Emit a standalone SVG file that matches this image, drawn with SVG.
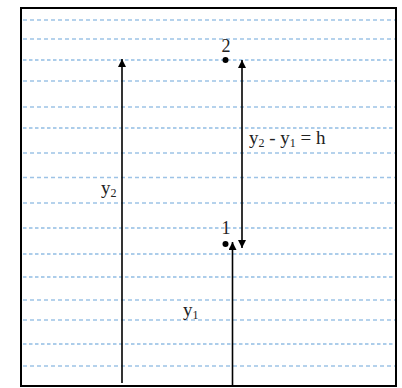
<svg xmlns="http://www.w3.org/2000/svg" width="402" height="388" viewBox="0 0 402 388">
<defs>
<style>
.gl{stroke:#9dc3e6;stroke-width:1.6;stroke-dasharray:4 3;fill:none}
.gd{stroke:#5b9bd5;stroke-width:1.2;stroke-dasharray:3.5 2.5;fill:none}
.ar{stroke:#000;stroke-width:1.6;fill:none}
.t{font-family:"Liberation Serif","Times New Roman",serif;font-size:19px;fill:#222}
.n{font-size:18px}
.s{font-size:12px}
</style>
<marker id="ah" viewBox="0 0 10 10" refX="10" refY="5" markerWidth="5" markerHeight="5" orient="auto-start-reverse" markerUnits="strokeWidth">
<path d="M0,0 L10,5 L0,10 z" fill="#000"/>
</marker>
</defs>
<rect x="0" y="0" width="402" height="388" fill="#fff"/>
<g id="grid">
<line class="gl" x1="23" y1="20" x2="395" y2="20"/>
<line class="gl" x1="23" y1="39" x2="395" y2="39"/>
<line class="gd" x1="23" y1="60" x2="395" y2="60"/>
<line class="gl" x1="23" y1="81" x2="395" y2="81"/>
<line class="gl" x1="23" y1="107" x2="395" y2="107"/>
<line class="gd" x1="23" y1="128" x2="395" y2="128"/>
<line class="gl" x1="23" y1="153" x2="395" y2="153"/>
<line class="gl" x1="23" y1="177.5" x2="395" y2="177.5"/>
<line class="gl" x1="23" y1="203" x2="395" y2="203"/>
<line class="gd" x1="23" y1="228" x2="395" y2="228"/>
<line class="gd" x1="23" y1="254" x2="395" y2="254"/>
<line class="gd" x1="23" y1="277" x2="395" y2="277"/>
<line class="gl" x1="23" y1="300" x2="395" y2="300"/>
<line class="gl" x1="23" y1="320" x2="395" y2="320"/>
<line class="gd" x1="23" y1="344" x2="395" y2="344"/>
<line class="gl" x1="23" y1="366" x2="395" y2="366"/>
</g>
<rect x="21" y="8" width="375" height="378" fill="none" stroke="#000" stroke-width="2"/>
<g id="connectors">
<line class="ar" x1="122" y1="383" x2="122" y2="59" marker-end="url(#ah)"/>
<line class="ar" x1="242" y1="60" x2="242" y2="248" marker-start="url(#ah)" marker-end="url(#ah)"/>
<line class="ar" x1="232.5" y1="386" x2="232.5" y2="242" marker-end="url(#ah)"/>
</g>
<g id="point2">
<circle cx="225.5" cy="60" r="3" fill="#000"/>
<text class="t n" x="226" y="52" text-anchor="middle">2</text>
</g>
<g id="point1">
<circle cx="225.5" cy="244" r="3" fill="#000"/>
<text class="t n" x="226" y="234" text-anchor="middle">1</text>
</g>
<g id="label-h">
<text class="t" x="249" y="144">y<tspan class="s" dy="3">2</tspan><tspan dy="-3"> - y</tspan><tspan class="s" dy="3">1</tspan><tspan dy="-3"> = h</tspan></text>
</g>
<g id="label-y2">
<text class="t" x="101" y="194">y<tspan class="s" dy="3">2</tspan></text>
</g>
<g id="label-y1">
<text class="t" x="183" y="316">y<tspan class="s" dy="3">1</tspan></text>
</g>
</svg>
